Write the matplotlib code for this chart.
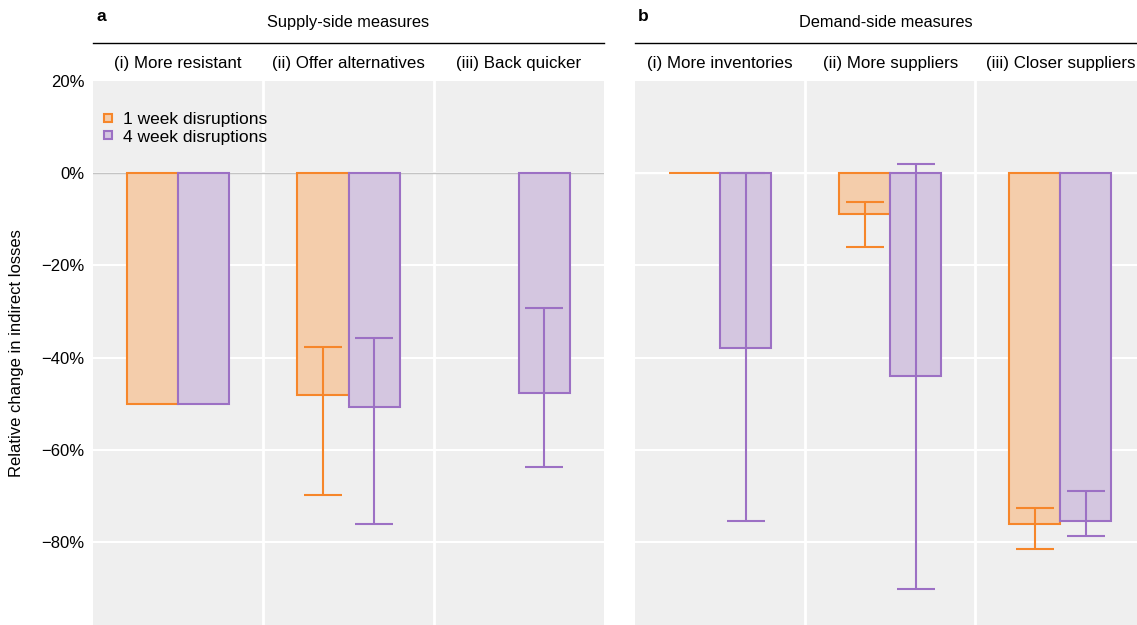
"""
Relative change in indirect losses for supply- and demand-side adaptation
measures, for 1-week and 4-week disruptions.
"""

import matplotlib.pyplot as plt
import numpy as np
from matplotlib.lines import Line2D

# Panel a: supply-side measures
supply_labels = ["(i) More resistant", "(ii) Offer alternatives", "(iii) Back quicker"]
supply_week1 = [-50.0, -48.2, np.nan]
supply_week1_low = [np.nan, -69.8, np.nan]
supply_week1_high = [np.nan, -37.6, np.nan]
supply_week4 = [-50.0, -50.8, -47.7]
supply_week4_low = [np.nan, -76.0, -63.8]
supply_week4_high = [np.nan, -35.7, -29.3]

# Panel b: demand-side measures
demand_labels = ["(i) More inventories", "(ii) More suppliers", "(iii) Closer suppliers"]
demand_week1 = [0.0, -8.8, -76.1]
demand_week1_low = [np.nan, -16.1, -81.5]
demand_week1_high = [np.nan, -6.2, -72.6]
demand_week4 = [-38.0, -44.0, -75.5]
demand_week4_low = [-75.5, -90.2, -78.6]
demand_week4_high = [0.0, 2.1, -68.9]

series_names = ["1 week disruptions", "4 week disruptions"]
y_ticks = [20, 0, -20, -40, -60, -80]
y_tick_labels = ["20%", "0%", "\u221220%", "\u221240%", "\u221260%", "\u221280%"]

ORANGE = "#f6862a"
ORANGE_FILL = "#f4cdab"
PURPLE = "#9c70c4"
PURPLE_FILL = "#d4c6e0"
PANEL_BG = "#efefef"

BAR_WIDTH = 0.3
Y_LIMITS = (-98, 20)


def draw_series(ax, values, low, high, offset, edge, fill):
    x = np.arange(len(values)) + offset
    values = np.asarray(values, dtype=float)
    ax.bar(x, values, width=BAR_WIDTH, color=fill, edgecolor=edge,
           linewidth=1.5, zorder=3)
    low = np.asarray(low, dtype=float)
    high = np.asarray(high, dtype=float)
    yerr = np.vstack([values - low, high - values])
    ax.errorbar(x, values, yerr=yerr, fmt="none", ecolor=edge,
                elinewidth=1.5, capsize=13.5, capthick=1.5, zorder=4)


def style_panel(ax, facet_labels, letter, title, zero_color):
    ax.set_facecolor(PANEL_BG)
    ax.set_ylim(*Y_LIMITS)
    ax.set_yticks(y_ticks)
    for spine in ax.spines.values():
        spine.set_visible(False)
    ax.set_xticks([])
    ax.tick_params(axis="y", length=0, pad=6, labelsize=12)

    for y in y_ticks[1:]:
        ax.axhline(y, color="white", linewidth=1.5, zorder=1)
    ax.axhline(0, color=zero_color, linewidth=1.0, zorder=1.5)
    for xb in [0.5, 1.5]:
        ax.axvline(xb, color="white", linewidth=2.0, zorder=1)

    for i, label in enumerate(facet_labels):
        ax.text(i, 1.033, label, transform=ax.get_xaxis_transform(),
                ha="center", va="center", fontsize=12.2)

    ax.plot([0, 1], [1.07, 1.07], transform=ax.transAxes,
            color="black", linewidth=1.0, clip_on=False)
    ax.text(0.5, 1.107, title, transform=ax.transAxes,
            ha="center", va="center", fontsize=11.8)
    ax.text(0.006, 1.118, letter, transform=ax.transAxes,
            ha="left", va="center", fontsize=12.5, fontweight="bold")


def main() -> None:
    plt.rcParams["font.family"] = ["Liberation Sans", "DejaVu Sans"]

    fig = plt.figure(figsize=(11.37, 6.25), dpi=100)
    top = (625 - 81) / 625
    ax_a = fig.add_axes([93 / 1137, 0, (604 - 93) / 1137, top])
    ax_b = fig.add_axes([635 / 1137, 0, (1137 - 635) / 1137, top])

    draw_series(ax_a, supply_week1, supply_week1_low, supply_week1_high,
                -BAR_WIDTH / 2, ORANGE, ORANGE_FILL)
    draw_series(ax_a, supply_week4, supply_week4_low, supply_week4_high,
                BAR_WIDTH / 2, PURPLE, PURPLE_FILL)
    draw_series(ax_b, demand_week1, demand_week1_low, demand_week1_high,
                -BAR_WIDTH / 2, ORANGE, ORANGE_FILL)
    draw_series(ax_b, demand_week4, demand_week4_low, demand_week4_high,
                BAR_WIDTH / 2, PURPLE, PURPLE_FILL)

    ax_a.set_xlim(-0.5, 2.5)
    ax_b.set_xlim(-0.5, 2.45)

    style_panel(ax_a, supply_labels, "a", "Supply-side measures", "#c4c4c4")
    style_panel(ax_b, demand_labels, "b", "Demand-side measures", "white")
    ax_a.set_yticklabels(y_tick_labels)
    ax_b.set_yticklabels([])

    ax_a.set_ylabel("Relative change in indirect losses", fontsize=12)
    ax_a.yaxis.set_label_coords(-0.135, 0.5)

    handles = [
        Line2D([], [], linestyle="none", marker="s", markersize=6,
               markerfacecolor=ORANGE_FILL, markeredgecolor=ORANGE, markeredgewidth=1.5),
        Line2D([], [], linestyle="none", marker="s", markersize=6,
               markerfacecolor=PURPLE_FILL, markeredgecolor=PURPLE, markeredgewidth=1.5),
    ]
    ax_a.legend(handles, series_names, loc="upper left", bbox_to_anchor=(-0.008, 0.966),
                frameon=False, fontsize=12.5, handlelength=0.8, handletextpad=0.45,
                labelspacing=0.15, borderaxespad=0.3)

    fig.savefig("out.png", dpi=100)


if __name__ == "__main__":
    main()
